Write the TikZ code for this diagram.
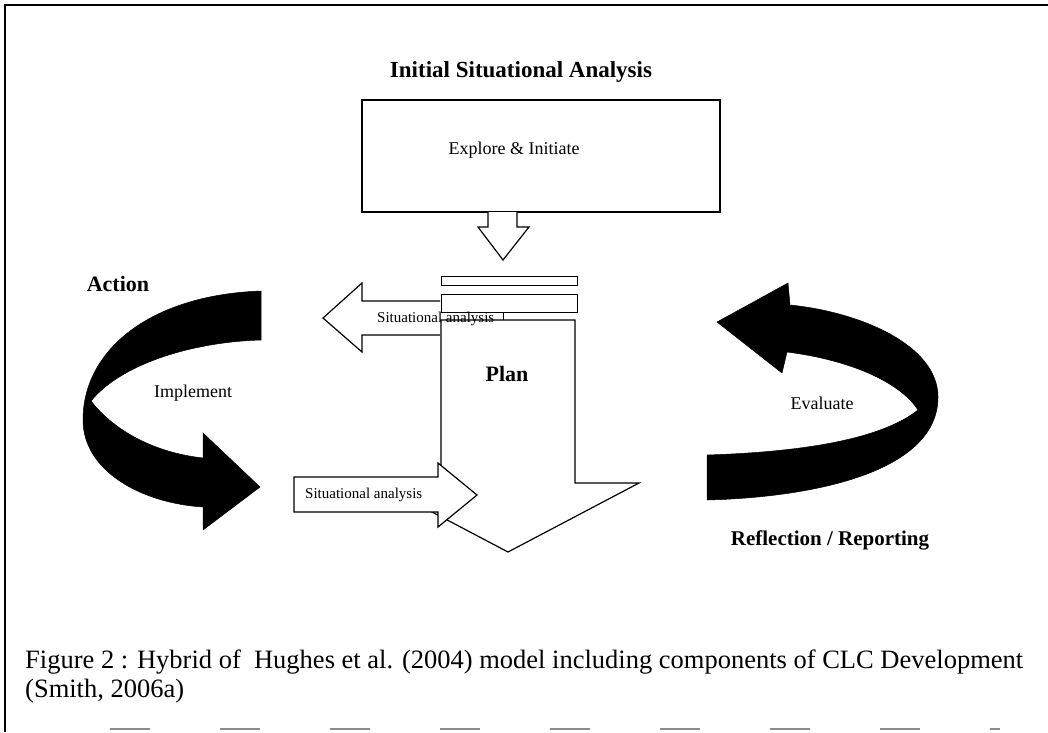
\documentclass[tikz,border=0pt]{standalone}
\usepackage{fontspec}
\setmainfont{Liberation Serif}
\begin{document}
\begin{tikzpicture}[x=1pt,y=-1pt,line join=miter,
  lbl/.style={inner sep=0pt,font=\fontsize{18}{20}\selectfont},
  slbl/.style={inner sep=0pt,font=\fontsize{15}{17}\selectfont},
  blbl/.style={inner sep=0pt,font=\bfseries\fontsize{22}{24}\selectfont},
  outl/.style={draw=black,line width=1.2pt,fill=white},
  curved/.style={fill=black,draw=black,line width=0.5pt}]
\useasboundingbox (0,0) rectangle (1048,732);
% frame
\draw[line width=1.5pt] (5,732) -- (5,5) -- (1048,5);
\draw[black!45,line width=1.5pt,dash pattern=on 40pt off 70pt] (110,729) -- (1000,729);
% title
\node[blbl,font=\bfseries\fontsize{23}{25}\selectfont] (title) at (521,72) {Initial Situational Analysis};
% explore box
\node[draw,line width=1.2pt,minimum width=358pt,minimum height=112pt,inner sep=0pt] (explore) at (541,156) {};
\node[lbl] (exploretxt) at (514,150) {Explore \& Initiate};
% down arrow
\draw[outl] (488,212) -- (488,227) -- (478,227) -- (503,260) -- (529,227) -- (517,227) -- (517,212);
% bars
\draw[outl,line width=1pt] (441,276) rectangle (577,285);
\draw[outl,line width=1pt] (441,294) rectangle (577,312);
\draw[line width=1pt] (503,312) -- (503,320);
% left small arrow
\fill[white] (440,301) -- (362,301) -- (362,283) -- (323,318) -- (362,352) -- (362,335) -- (440,335) -- cycle;
\draw[line width=1.2pt] (440,301) -- (362,301) -- (362,283) -- (323,318) -- (362,352) -- (362,335) -- (440,335);
% plan arrow
\draw[outl] (441,320) -- (575,320) -- (575,483) -- (639,483) -- (508,552) -- (377,483) -- (441,483) -- cycle;
\node[slbl,anchor=west] (sa1) at (377,319) {Situational analysis};
\node[blbl] (plan) at (507,374) {Plan};
% right small arrow
\draw[outl] (294,477) -- (438,477) -- (438,463) -- (477,495) -- (438,527) -- (438,512) -- (294,512) -- cycle;
\node[slbl,anchor=west] (sa2) at (305,495) {Situational analysis};
% left curved arrow (Implement)
\path[curved] (261,291) .. controls (150,295) and (83,350) .. (83,420)
  .. controls (83,470) and (140,503) .. (203,507)
  -- (203,530) -- (260,487) -- (203,433) -- (203,458)
  .. controls (150,452) and (112,428) .. (91,401)
  .. controls (120,365) and (190,342) .. (261,340) -- cycle;
\node[blbl] (action) at (118,284) {Action};
\node[lbl] (implement) at (193,393) {Implement};
% right curved arrow (Evaluate)
\path[curved] (707,500) .. controls (820,497) and (938,470) .. (938,397)
  .. controls (938,345) and (860,312) .. (790,305)
  -- (788,283) -- (717,322) -- (782,373) -- (787,352)
  .. controls (850,360) and (900,382) .. (918,410)
  .. controls (880,440) and (800,452) .. (707,455) -- cycle;
\node[lbl] (evaluate) at (822,403) {Evaluate};
\node[blbl,font=\bfseries\fontsize{21}{23}\selectfont] (reflect) at (830,540) {Reflection / Reporting};
% caption
\node[inner sep=0pt,anchor=base west,font=\fontsize{26.5}{29}\selectfont] (cap1) at (25,668) {Figure 2 : Hybrid of\ \ Hughes et al. (2004) model including components of CLC Development};
\node[inner sep=0pt,anchor=base west,font=\fontsize{26.5}{29}\selectfont] (cap2) at (25,697) {(Smith, 2006a)};
\end{tikzpicture}
\end{document}
